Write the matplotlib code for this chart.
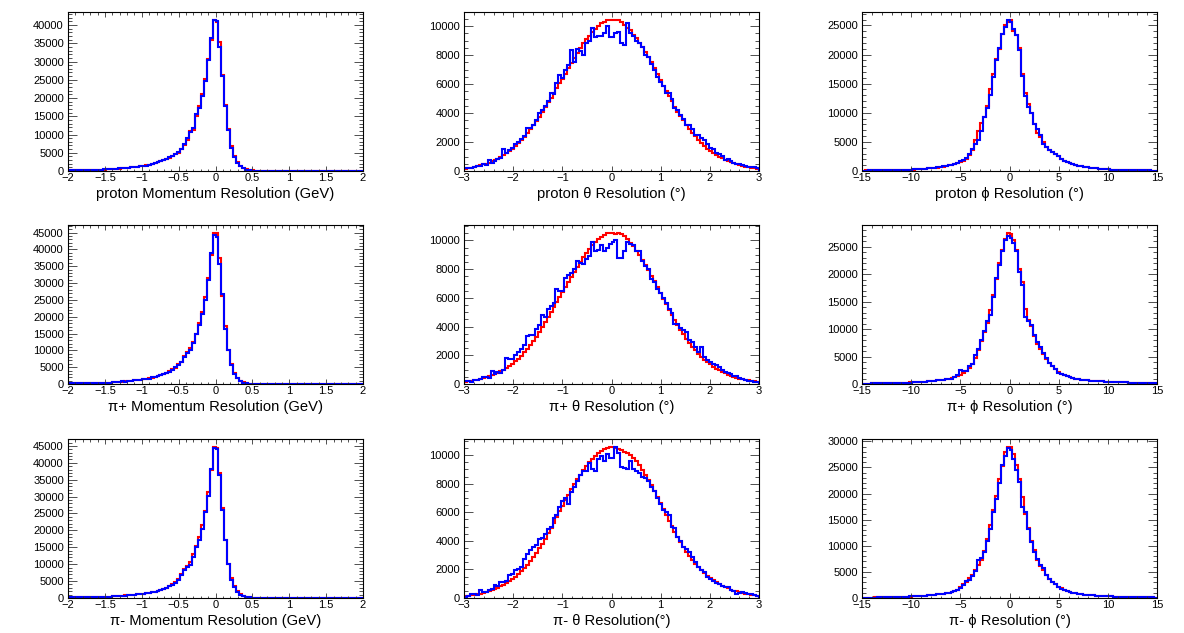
import numpy as np
import matplotlib.pyplot as plt
from matplotlib.ticker import MultipleLocator, FuncFormatter

plt.rcParams['font.family'] = ['Liberation Sans', 'DejaVu Sans']

# bin contents, in units of 100 entries, 100 bins per histogram
mom_tail = [0.3, 0.3, 0.2, 0.2, 0.2, 0.2, 0.2, 0.2, 0.1, 0.1,
            0.1, 0.1, 0.1, 0.1, 0.1, 0.1, 0.1, 0.1, 0.1, 0.1,
            0.1, 0.1, 0.1, 0.1, 0.1, 0.1, 0.1, 0.1, 0.1, 0.1]

p1_red = [1.8, 2.2, 2.5, 2.2, 2.0, 2.4, 2.6, 2.8, 3.0, 3.3,
          3.6, 3.9, 4.0, 4.6, 5.2, 5.6, 6.2, 6.8, 7.8, 8.3,
          9.5, 10.2, 11.5, 12.3, 13.5, 14.5, 16, 17.5, 19.5, 22,
          26, 27, 31, 34, 36, 41, 47, 50, 60, 72,
          86, 109, 113, 152, 178, 210, 251, 306, 360, 413,
          409, 354, 264, 182, 115, 68, 40, 24, 14, 8,
          4.5, 2.5, 1.4, 0.9, 0.6, 0.5, 0.4, 0.4, 0.3, 0.3] + mom_tail
p1_blue = [2.0, 2.8, 2.2, 2.0, 2.1, 2.3, 2.5, 2.7, 2.9, 3.2,
           3.5, 3.8, 4.2, 4.5, 5.0, 5.5, 6.5, 7.0, 7.5, 8.5,
           9.0, 10, 11, 12, 13, 14, 15, 17, 19, 23,
           25, 28, 30, 33, 37, 40, 46, 52, 61, 75,
           91, 107, 118, 156, 173, 206, 246, 304, 365, 415,
           412, 340, 260, 178, 112, 63, 38, 22, 13, 7,
           4, 2, 1.2, 0.8, 0.6, 0.5, 0.4, 0.4, 0.3, 0.3] + mom_tail
p2_red = [1.4, 1.7, 1.6, 1.8, 2.0, 2.1, 2.1, 2.5, 2.7, 2.8,
          3.0, 3.3, 3.5, 3.9, 4.0, 4.8, 5.5, 6.2, 7.0, 7.5,
          8.5, 9.0, 10.5, 11.5, 12.5, 14, 15, 17, 19, 21,
          25, 27, 31, 34, 38, 44, 48, 58, 66, 82,
          96, 106, 125, 150, 180, 215, 260, 315, 382, 450,
          448, 373, 262, 172, 102, 58, 34, 18, 9, 4.5,
          2.2, 1.2, 0.7, 0.5, 0.4, 0.3, 0.3, 0.3, 0.2, 0.2] + mom_tail
p2_blue = [1.5, 1.6, 1.8, 1.7, 1.9, 2.0, 2.2, 2.4, 2.6, 2.9,
           3.2, 3.0, 3.4, 3.8, 4.2, 4.5, 5.0, 6.0, 8.5, 7.0,
           8.0, 9.5, 11, 12.5, 12, 13.5, 14.5, 16, 20, 22,
           24, 28, 30, 33, 37, 43, 50, 56, 64, 80,
           93, 100, 123, 148, 176, 208, 250, 310, 390, 443,
           438, 356, 266, 163, 102, 55, 30, 17, 8, 4,
           2, 1.0, 0.6, 0.5, 0.4, 0.3, 0.3, 0.3, 0.2, 0.2] + mom_tail
p3_red = [1.4, 1.6, 2.4, 2.0, 2.2, 2.3, 2.5, 2.7, 2.9, 3.2,
          3.4, 3.4, 3.8, 4.2, 4.4, 5.0, 5.5, 6.3, 7.0, 8.0,
          8.5, 9.0, 10, 11, 12, 12.5, 14, 15.5, 17, 19,
          21, 24, 27, 30, 36, 40, 47, 57, 70, 85,
          94, 107, 129, 153, 181, 216, 257, 313, 379, 448,
          445, 371, 265, 173, 102, 60, 35, 20, 11, 6,
          3.2, 1.6, 0.9, 0.6, 0.4, 0.3, 0.3, 0.3, 0.2, 0.2] + mom_tail
p3_blue = [1.5, 1.8, 2.0, 2.2, 2.0, 2.4, 2.6, 2.8, 3.0, 3.1,
           3.3, 3.5, 3.7, 4.0, 4.3, 4.8, 5.3, 5.9, 6.6, 7.3,
           8.0, 8.5, 9.5, 10.5, 11.5, 13, 14, 15, 16.5, 18,
           20, 23, 26, 31, 35, 38, 45, 54, 67, 82,
           92, 97, 120, 150, 173, 205, 255, 302, 381, 443,
           440, 364, 260, 171, 100, 54, 32, 18, 10, 5,
           3, 1.5, 0.8, 0.5, 0.4, 0.3, 0.3, 0.3, 0.2, 0.2] + mom_tail

t1_red = [1.7, 2.0, 2.4, 2.8, 3.3, 3.9, 4.5, 5.1, 5.8, 6.6,
          7.5, 8.5, 9.6, 10.8, 12.1, 13.6, 15.2, 17, 19, 21.2,
          23.5, 26, 28.7, 31.5, 34.5, 37.6, 40.8, 44, 47.3, 50.6,
          54, 57.3, 60.6, 63.8, 67.2, 70.8, 74.5, 78, 81.5, 85,
          88, 91, 93.5, 96, 98, 100, 102, 103, 104, 104,
          104.5, 104, 104.5, 103, 101, 99, 97, 94, 91.5, 88.5,
          85.5, 82, 78.5, 75, 71, 67, 63, 59, 55.5, 52,
          48, 44.5, 41, 38, 35, 32, 29, 26.5, 24, 21.5,
          19.5, 17.5, 15.5, 14, 12.5, 11, 9.8, 8.7, 7.7, 6.8,
          6.0, 5.3, 4.6, 4.0, 3.5, 3.0, 2.6, 2.3, 2.0, 1.7]
t1_blue = [2.0, 2.3, 2.2, 3.0, 3.5, 3.2, 4.5, 4.0, 7.5, 5.5,
           7.0, 8.0, 9.0, 15.5, 12.5, 14.5, 16, 18.5, 20, 22,
           24, 30, 29.5, 32, 35, 40, 42, 45, 48.5, 53.5,
           53, 61, 66, 64, 70, 73, 83.5, 75, 84, 82.5,
           80, 88, 89.5, 98.5, 92.5, 93, 93, 95.5, 100, 92.5,
           92.5, 95, 96, 88, 87, 102, 95, 93, 90, 88,
           85.5, 80, 79, 74, 70, 65, 61.5, 58.5, 54, 53.5,
           50, 43.5, 42, 38.5, 36, 31.5, 32, 29, 25, 24.5,
           23, 21.5, 18.5, 16, 15, 12.5, 11.5, 10.5, 7.5, 8.5,
           7, 5.5, 5, 4.5, 4, 3.5, 3, 2.5, 2.8, 1.8]
t2_red = [1.5, 1.8, 2.1, 2.5, 3.0, 3.5, 4.0, 4.6, 5.3, 6.1,
          7.0, 7.9, 8.9, 10, 11.2, 12.5, 14, 15.7, 17.6, 19.7,
          22, 24.5, 27.2, 30, 33, 36.2, 39.5, 42.9, 46.4, 50,
          53.6, 57.2, 60.8, 64.3, 67.8, 71.2, 74.6, 78, 81.6, 85,
          88.3, 91.3, 94.2, 96.8, 99, 101, 102.7, 104, 105, 105.5,
          105, 104.5, 105.5, 104.5, 103, 101, 98.5, 96, 93, 90,
          86.5, 83, 79.5, 75.5, 71.5, 67.5, 63.5, 59.5, 55.5, 51.5,
          48, 44.5, 41, 37.5, 34.5, 31.5, 28.5, 26, 23.5, 21,
          19, 17, 15.2, 13.6, 12.1, 10.7, 9.5, 8.4, 7.4, 6.5,
          5.7, 5.0, 4.4, 3.8, 3.3, 2.9, 2.5, 2.1, 1.8, 1.5]
t2_blue = [2.4, 2.4, 1.2, 2.8, 2.8, 3.5, 5.2, 5.0, 4.5, 8.8,
           7.0, 8.5, 8.0, 10, 18.4, 17.6, 17.5, 20, 22, 24.7,
           27, 33.4, 33.8, 34, 38, 41, 48, 47, 52, 54,
           56.5, 66, 65, 64.7, 74, 76, 77.6, 80, 86, 84,
           83.5, 87, 89, 98.8, 93, 93.5, 97, 93, 95, 97.6,
           99, 100, 88, 87.5, 93, 98.8, 97.5, 96.5, 93, 93,
           86, 82, 80, 73, 71, 66, 63.5, 60, 56.5, 52,
           49.4, 42, 42, 38.8, 37.5, 36.5, 30.6, 29, 26, 22.5,
           26, 18.8, 17, 15.3, 14, 13, 11.8, 9.5, 8.2, 7.5,
           7, 5.9, 5.5, 4, 3.6, 2.8, 2.2, 1.9, 1.2, 1.5]
t3_red = [1.3, 1.6, 1.9, 2.3, 2.7, 3.1, 3.6, 4.2, 4.8, 5.5,
          6.3, 7.2, 8.2, 9.3, 10.5, 11.8, 13.2, 14.8, 16.6, 18.6,
          20.8, 23.2, 25.8, 28.6, 31.6, 34.8, 38.1, 41.6, 45.2, 49,
          52.8, 56.7, 60.6, 64.5, 68.4, 72.2, 76, 79.6, 83, 86.3,
          89.4, 92.3, 95, 97.5, 99.7, 101.6, 103.2, 104.4, 105.2, 105.6,
          105.5, 105, 104.2, 103.5, 102.5, 101.3, 99.8, 98, 95.6, 92.8,
          89.6, 86.2, 82.6, 78.8, 74.8, 70.7, 66.6, 62.4, 58.3, 54.2,
          50.2, 46.3, 42.5, 38.9, 35.5, 32.3, 29.3, 26.5, 23.9, 21.5,
          19.3, 17.3, 15.5, 13.8, 12.3, 10.9, 9.7, 8.6, 7.6, 6.7,
          5.9, 5.2, 4.6, 4.0, 3.5, 3.1, 2.7, 2.3, 2.0, 1.7]
t3_blue = [1.0, 1.5, 2.8, 2.6, 2.4, 5.9, 4.5, 4.0, 5.5, 6.4,
           9.4, 8.5, 11, 11.5, 12.2, 15.8, 16.5, 19.3, 20.5, 22,
           27.5, 31, 33.4, 36, 37, 41.6, 42, 45, 48, 50,
           55.8, 58, 64, 68, 70, 66, 74, 78, 82, 86,
           88.7, 89, 94.6, 90, 89, 97, 99.3, 96, 100.5, 98,
           98, 106, 101.6, 92, 91, 90, 96, 90, 89, 87.5,
           85, 84, 81.6, 78, 74.6, 70, 66, 61.6, 60, 58,
           50, 48.7, 42.8, 40, 35.8, 34, 32.2, 28.7, 25, 21.6,
           19.5, 18, 14.6, 13, 11.8, 10.4, 9.5, 8.7, 8, 7.5,
           5.6, 5.0, 2.8, 3.5, 4.0, 3.3, 3.0, 2.8, 2.0, 1.4]

f1_red = [0.7, 0.9, 0.8, 1.0, 1.1, 1.1, 1.2, 1.3, 1.3, 1.4,
          1.6, 1.6, 1.7, 1.9, 2.1, 2.2, 2.4, 2.5, 2.9, 3.1,
          3.5, 3.8, 4.4, 4.8, 5.4, 6.0, 6.8, 7.5, 8.5, 9.6,
          10.8, 12, 14, 16, 18, 21, 28, 36, 53, 68,
          82, 93, 112, 140, 166, 193, 210, 236, 250, 256,
          260, 240, 234, 212, 166, 134, 115, 100, 80, 65,
          58, 50, 42, 36, 32, 29, 25, 21, 18, 15.5,
          13, 11.5, 10, 9, 8, 7, 6.2, 5.5, 4.8, 4.3,
          3.8, 3.4, 3.0, 2.8, 2.5, 2.3, 2.1, 1.9, 1.7, 1.6,
          1.5, 1.4, 1.3, 1.2, 1.1, 1.0, 0.9, 0.9, 0.8, 0.7]
f1_blue = [0.8, 0.8, 0.9, 1.0, 1.0, 1.1, 1.2, 1.2, 1.3, 1.4,
           1.5, 1.6, 1.8, 1.9, 2.0, 2.2, 2.4, 2.6, 2.8, 3.0,
           3.6, 4.0, 4.5, 5.0, 5.5, 6.2, 7.0, 7.8, 8.8, 10,
           11, 12.5, 14, 17, 19, 22, 30, 37, 46, 54,
           68, 93, 108, 130, 162, 191, 212, 236, 248, 259,
           256, 244, 234, 208, 163, 128, 110, 99, 80, 72,
           61, 47, 41, 36, 32, 30, 26, 21, 18, 15.5,
           13.5, 11.5, 10, 9, 8, 7, 6.2, 5.5, 4.8, 4.3,
           3.8, 3.4, 3.0, 2.8, 2.5, 2.3, 2.1, 1.9, 1.7, 1.6,
           1.5, 1.4, 1.3, 1.2, 1.1, 1.0, 0.9, 0.9, 0.8, 0.7]
f2_red = [0.8, 0.8, 0.9, 1.0, 1.1, 1.1, 1.2, 1.3, 1.3, 1.4,
          1.6, 1.8, 2.0, 2.1, 2.4, 2.6, 2.8, 3.1, 3.3, 3.6,
          4.0, 4.4, 4.9, 5.4, 6.0, 6.6, 7.2, 8.0, 8.8, 9.6,
          10.5, 12, 14, 17, 20, 24, 29, 37, 48, 62,
          78, 94, 112, 135, 163, 192, 220, 245, 265, 276,
          273, 262, 245, 210, 186, 137, 117, 105, 88, 73,
          64, 55, 46, 39, 33, 27, 21, 18, 16, 14,
          12.5, 11, 9.8, 8.8, 8.0, 7.3, 6.7, 6.2, 5.7, 5.3,
          4.9, 4.6, 4.3, 4.0, 3.8, 3.6, 3.4, 3.2, 3.0, 2.8,
          2.6, 2.4, 2.2, 2.0, 1.8, 1.7, 1.5, 1.4, 1.3, 1.2]
f2_blue = [0.8, 0.9, 0.9, 1.0, 1.0, 1.1, 1.2, 1.2, 1.3, 1.4,
           1.5, 1.7, 1.9, 2.1, 2.3, 2.5, 2.7, 3.0, 3.4, 3.7,
           4.0, 4.5, 5.0, 5.5, 6.0, 6.5, 7.2, 7.8, 8.5, 9.5,
           10, 13, 16, 26, 24, 23, 33, 37, 53, 63,
           80, 96, 115, 126, 159, 193, 216, 243, 263, 269,
           266, 257, 242, 205, 181, 123, 115, 108, 90, 76,
           68, 56, 47, 39, 33, 27, 20, 17.5, 16.5, 14.5,
           13.5, 11.5, 10, 8.5, 7.8, 7.2, 6.7, 6.3, 5.8, 5.4,
           5.0, 4.7, 4.4, 4.1, 3.9, 3.7, 3.5, 3.3, 3.1, 2.9,
           2.7, 2.5, 2.3, 2.1, 1.9, 1.7, 1.5, 1.4, 1.3, 1.2]
f3_red = [0.7, 0.7, 0.8, 0.9, 1.0, 1.0, 1.1, 1.1, 1.2, 1.3,
          1.5, 1.6, 1.8, 2.0, 2.2, 2.5, 2.8, 3.2, 3.5, 3.9,
          4.2, 4.6, 5.1, 5.6, 6.2, 6.8, 7.5, 8.3, 9.2, 10.3,
          12, 14, 16, 22, 26, 31, 38, 45, 54, 63,
          73, 90, 113, 140, 168, 196, 227, 253, 280, 290,
          290, 276, 255, 228, 193, 160, 135, 110, 91, 73,
          62, 53, 45, 37, 31, 26, 22, 18.5, 16, 14,
          12, 10.5, 9.3, 8.3, 7.4, 6.6, 6.0, 5.4, 4.9, 4.5,
          4.1, 3.8, 3.5, 3.2, 3.0, 2.8, 2.6, 2.4, 2.2, 2.0,
          1.9, 1.8, 1.6, 1.5, 1.4, 1.3, 1.2, 1.1, 1.0, 0.9]
f3_blue = [0.7, 0.8, 0.8, 0.9, 0.9, 1.0, 1.0, 1.1, 1.2, 1.3,
           1.4, 1.6, 1.8, 2.0, 2.3, 2.6, 3.0, 4.0, 3.6, 4.0,
           4.3, 4.6, 5.0, 5.5, 6.0, 7.0, 7.5, 8.0, 9.0, 10,
           12, 14, 16, 20, 24, 33, 35, 43, 52, 72,
           76, 88, 110, 133, 165, 190, 221, 255, 272, 288,
           283, 267, 245, 222, 175, 164, 132, 108, 89, 75,
           63, 58, 44, 36, 30, 26, 21, 18, 16, 13.5,
           12, 10, 9, 8, 7.2, 6.5, 5.9, 5.4, 5.0, 4.6,
           4.2, 3.9, 3.6, 3.3, 3.0, 2.8, 2.6, 2.4, 2.2, 2.0,
           1.9, 1.8, 1.6, 1.5, 1.4, 1.3, 1.2, 1.1, 1.0, 0.9]

# x range, x major/minor, y major/minor for the three columns
col_axis = [(-2, 2, 0.5, 0.1, 5000, 1000),
            (-3, 3, 1, 0.2, 2000, 500),
            (-15, 15, 5, 1, 5000, 1000)]

hists = [[(p1_red, p1_blue), (t1_red, t1_blue), (f1_red, f1_blue)],
         [(p2_red, p2_blue), (t2_red, t2_blue), (f2_red, f2_blue)],
         [(p3_red, p3_blue), (t3_red, t3_blue), (f3_red, f3_blue)]]

xlabels = [["proton Momentum Resolution (GeV)", "proton θ Resolution (°)", "proton ϕ Resolution (°)"],
           ["π+ Momentum Resolution (GeV)", "π+ θ Resolution (°)", "π+ ϕ Resolution (°)"],
           ["π- Momentum Resolution (GeV)", "π- θ Resolution(°)", "π- ϕ Resolution (°)"]]

W, H = 1184, 633
col_left = [68, 464, 862]
row_top = [12, 225, 439]
ax_w, ax_h = 295, 159


def fmt(v, pos):
    return ('%g' % v).replace('-', '\u2212')


fig = plt.figure(figsize=(W / 100, H / 100), dpi=100)
for r in range(3):
    for c in range(3):
        lo, hi, xmaj, xmin, ymaj, ymin = col_axis[c]
        red, blue = hists[r][c]
        red = np.array(red) * 100
        blue = np.array(blue) * 100
        edges = np.linspace(lo, hi, len(red) + 1)

        ax = fig.add_axes([col_left[c] / W, 1 - (row_top[r] + ax_h) / H, ax_w / W, ax_h / H])
        ax.stairs(red, edges, color='#ff0000', lw=1.5)
        ax.stairs(blue, edges, color='#0000ff', lw=1.5)
        ax.set_xlim(lo, hi)
        ax.set_ylim(0, 1.05 * max(red.max(), blue.max()))

        ax.xaxis.set_major_locator(MultipleLocator(xmaj))
        ax.xaxis.set_minor_locator(MultipleLocator(xmin))
        ax.yaxis.set_major_locator(MultipleLocator(ymaj))
        ax.yaxis.set_minor_locator(MultipleLocator(ymin))
        ax.xaxis.set_major_formatter(FuncFormatter(fmt))
        ax.yaxis.set_major_formatter(FuncFormatter(fmt))

        ax.tick_params(which='both', direction='in', top=True, right=True,
                       labelsize=8, width=0.6, color='#333333')
        ax.tick_params(axis='x', which='major', length=3.6, pad=1.5)
        ax.tick_params(axis='x', which='minor', length=1.8)
        ax.tick_params(axis='y', which='major', length=6.5, pad=3)
        ax.tick_params(axis='y', which='minor', length=3.2)
        for s in ax.spines.values():
            s.set_linewidth(0.8)
        ax.set_xlabel(xlabels[r][c], fontsize=10.6, labelpad=3)

fig.savefig('out.png', dpi=100)
